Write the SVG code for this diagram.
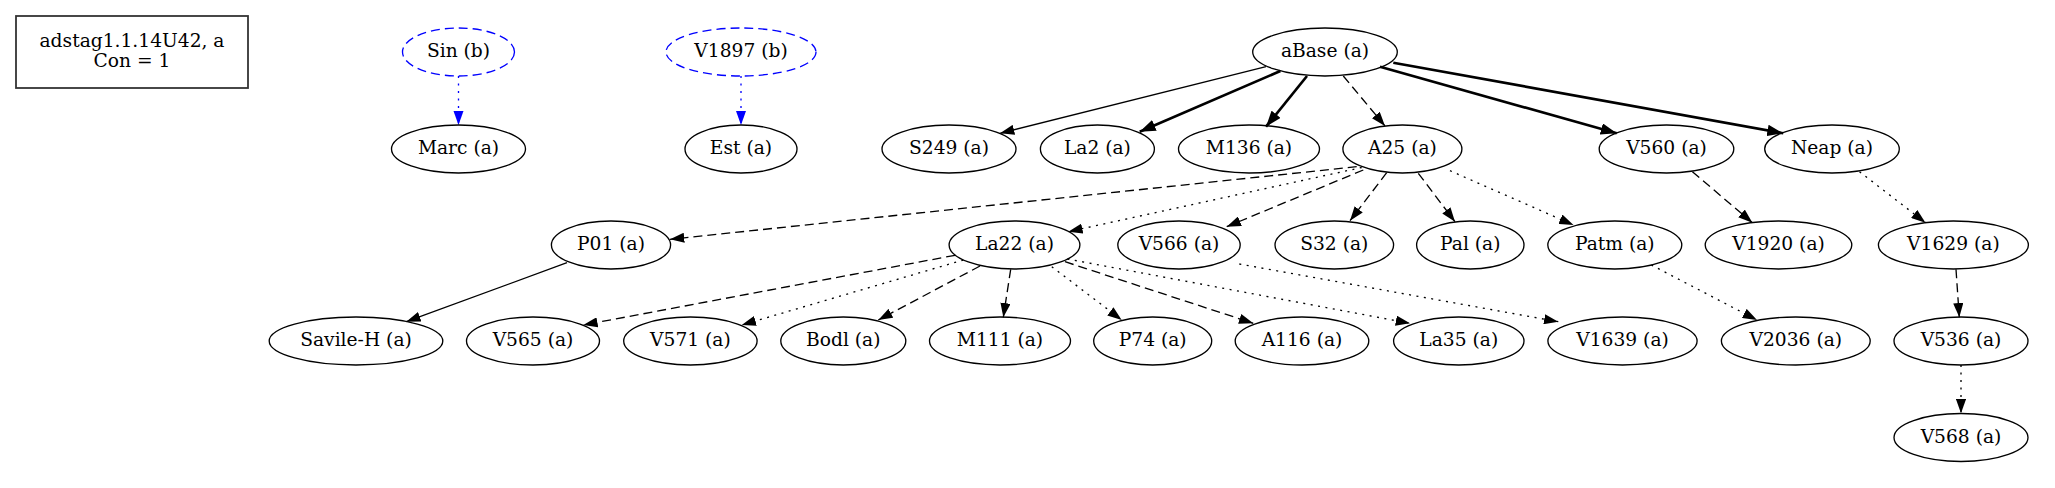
<svg xmlns="http://www.w3.org/2000/svg" width="2055" height="488" viewBox="0 0 2055 488">
<style>
text{font-family:"DejaVu Serif","Liberation Serif",serif;font-size:18.67px;text-anchor:middle;fill:#000}
.n ellipse{fill:none;stroke:#000;stroke-width:1.33}
.n.b ellipse{stroke:#0000ff;stroke-dasharray:9,5}
.e path{fill:none;stroke:#000;stroke-width:1.33;marker-end:url(#ah)}
.e path.bold{stroke-width:2.67;marker-end:url(#ahb)}
.e path.dash{stroke-dasharray:9,5}
.e path.dot{stroke-dasharray:2,5.5}
.e path.blue{stroke:#0000ff;marker-end:url(#ahblue)}
</style>
<defs>
<marker id="ah" markerUnits="userSpaceOnUse" viewBox="0 0 14.3 10.2" refX="14.3" refY="5.1" markerWidth="14.3" markerHeight="10.2" orient="auto"><path d="M0,0 L14.3,5.1 L0,10.2 z" fill="#000"/></marker>
<marker id="ahb" markerUnits="userSpaceOnUse" viewBox="0 0 16 11.6" refX="16" refY="5.8" markerWidth="16" markerHeight="11.6" orient="auto"><path d="M0,0 L16,5.8 L0,11.6 z" fill="#000"/></marker>
<marker id="ahblue" markerUnits="userSpaceOnUse" viewBox="0 0 14.3 10.2" refX="14.3" refY="5.1" markerWidth="14.3" markerHeight="10.2" orient="auto"><path d="M0,0 L14.3,5.1 L0,10.2 z" fill="#0000ff"/></marker>
</defs>
<rect width="2055" height="488" fill="#fff"/>
<g id="connectors" class="e">
<path class="dot blue" d="M458.5,76 L458.5,125"/>
<path class="dot blue" d="M741,76 L741,125"/>
<path d="M1266,66.7 L1000,133.3"/>
<path class="bold" d="M1280.4,71 L1139.7,131.7"/>
<path class="bold" d="M1307,76 L1266,126.7"/>
<path class="dash" d="M1343.3,76 L1385,126"/>
<path class="bold" d="M1380,66.7 L1616.7,133.3"/>
<path class="bold" d="M1393.3,62.7 L1783.3,133.3"/>
<path class="dash" d="M1356.7,166.7 L670,239.3"/>
<path class="dot" d="M1361.7,167.5 L1068.3,231.7"/>
<path class="dash" d="M1363.3,170 L1226.7,226.7"/>
<path class="dash" d="M1386.7,172.7 L1350,220.7"/>
<path class="dash" d="M1418.3,173.3 L1455,221.7"/>
<path class="dot" d="M1450,170.7 L1573.5,225"/>
<path class="dash" d="M1692.4,171.7 L1752.4,222.7"/>
<path class="dot" d="M1859.5,171.7 L1925.5,222.7"/>
<path d="M567,262.7 L406.3,321.7"/>
<path class="dash" d="M955,255.3 L583.3,325"/>
<path class="dot" d="M963.3,260 L741.7,325"/>
<path class="dash" d="M980,266 L878.3,320"/>
<path class="dash" d="M1010.7,269.3 L1003.3,317.3"/>
<path class="dot" d="M1051.8,266.7 L1121.7,320"/>
<path class="dash" d="M1065,261.7 L1253.3,323.3"/>
<path class="dot" d="M1067.4,259 L1410,323.3"/>
<path class="dot" d="M1239.3,264 L1558.3,321.7"/>
<path class="dot" d="M1651.3,265 L1757,320"/>
<path class="dash" d="M1956,269.3 L1959.3,317.3"/>
<path class="dot" d="M1961,365 L1961,413.3"/>
</g>
<g id="legend"><rect x="16" y="16" width="232" height="72" fill="none" stroke="#333" stroke-width="1.8"/><text x="132" y="46.7">adstag1.1.14U42, a</text><text x="132" y="66.7">Con = 1</text></g>
<g id="Sin" class="n b"><ellipse cx="458.5" cy="52" rx="56" ry="24"/><text x="458.5" y="57">Sin (b)</text></g>
<g id="V1897" class="n b"><ellipse cx="741" cy="52" rx="75" ry="24"/><text x="741" y="57">V1897 (b)</text></g>
<g id="aBase" class="n"><ellipse cx="1325" cy="52" rx="72.3" ry="24"/><text x="1325" y="57">aBase (a)</text></g>
<g id="Marc" class="n"><ellipse cx="458.5" cy="149" rx="67" ry="24"/><text x="458.5" y="154">Marc (a)</text></g>
<g id="Est" class="n"><ellipse cx="741" cy="149" rx="56" ry="24"/><text x="741" y="154">Est (a)</text></g>
<g id="S249" class="n"><ellipse cx="949" cy="149" rx="67" ry="24"/><text x="949" y="154">S249 (a)</text></g>
<g id="La2" class="n"><ellipse cx="1097.4" cy="149" rx="57" ry="24"/><text x="1097.4" y="154">La2 (a)</text></g>
<g id="M136" class="n"><ellipse cx="1249" cy="149" rx="70.5" ry="24"/><text x="1249" y="154">M136 (a)</text></g>
<g id="A25" class="n"><ellipse cx="1402.4" cy="149" rx="59.5" ry="24"/><text x="1402.4" y="154">A25 (a)</text></g>
<g id="V560" class="n"><ellipse cx="1666.5" cy="149" rx="67.3" ry="24"/><text x="1666.5" y="154">V560 (a)</text></g>
<g id="Neap" class="n"><ellipse cx="1832" cy="149" rx="67.3" ry="24"/><text x="1832" y="154">Neap (a)</text></g>
<g id="P01" class="n"><ellipse cx="611" cy="245" rx="59.6" ry="24"/><text x="611" y="250">P01 (a)</text></g>
<g id="La22" class="n"><ellipse cx="1014.5" cy="245" rx="65.4" ry="24"/><text x="1014.5" y="250">La22 (a)</text></g>
<g id="V566" class="n"><ellipse cx="1179" cy="245" rx="61.2" ry="24"/><text x="1179" y="250">V566 (a)</text></g>
<g id="S32" class="n"><ellipse cx="1334.3" cy="245" rx="59.3" ry="24"/><text x="1334.3" y="250">S32 (a)</text></g>
<g id="Pal" class="n"><ellipse cx="1470.3" cy="245" rx="53.7" ry="24"/><text x="1470.3" y="250">Pal (a)</text></g>
<g id="Patm" class="n"><ellipse cx="1614.8" cy="245" rx="67" ry="24"/><text x="1614.8" y="250">Patm (a)</text></g>
<g id="V1920" class="n"><ellipse cx="1778.5" cy="245" rx="73.3" ry="24"/><text x="1778.5" y="250">V1920 (a)</text></g>
<g id="V1629" class="n"><ellipse cx="1953.4" cy="245" rx="75" ry="24"/><text x="1953.4" y="250">V1629 (a)</text></g>
<g id="Savile-H" class="n"><ellipse cx="356" cy="341" rx="86.8" ry="24"/><text x="356" y="346">Savile-H (a)</text></g>
<g id="V565" class="n"><ellipse cx="533" cy="341" rx="66.5" ry="24"/><text x="533" y="346">V565 (a)</text></g>
<g id="V571" class="n"><ellipse cx="690.4" cy="341" rx="66.7" ry="24"/><text x="690.4" y="346">V571 (a)</text></g>
<g id="Bodl" class="n"><ellipse cx="843.3" cy="341" rx="62.5" ry="24"/><text x="843.3" y="346">Bodl (a)</text></g>
<g id="M111" class="n"><ellipse cx="1000" cy="341" rx="70.5" ry="24"/><text x="1000" y="346">M111 (a)</text></g>
<g id="P74" class="n"><ellipse cx="1152.7" cy="341" rx="59" ry="24"/><text x="1152.7" y="346">P74 (a)</text></g>
<g id="A116" class="n"><ellipse cx="1302" cy="341" rx="66.8" ry="24"/><text x="1302" y="346">A116 (a)</text></g>
<g id="La35" class="n"><ellipse cx="1458.8" cy="341" rx="65.2" ry="24"/><text x="1458.8" y="346">La35 (a)</text></g>
<g id="V1639" class="n"><ellipse cx="1622.5" cy="341" rx="74.6" ry="24"/><text x="1622.5" y="346">V1639 (a)</text></g>
<g id="V2036" class="n"><ellipse cx="1795.8" cy="341" rx="74.4" ry="24"/><text x="1795.8" y="346">V2036 (a)</text></g>
<g id="V536" class="n"><ellipse cx="1961" cy="341" rx="67" ry="24"/><text x="1961" y="346">V536 (a)</text></g>
<g id="V568" class="n"><ellipse cx="1961" cy="437.5" rx="67" ry="24"/><text x="1961" y="442.5">V568 (a)</text></g>
</svg>
